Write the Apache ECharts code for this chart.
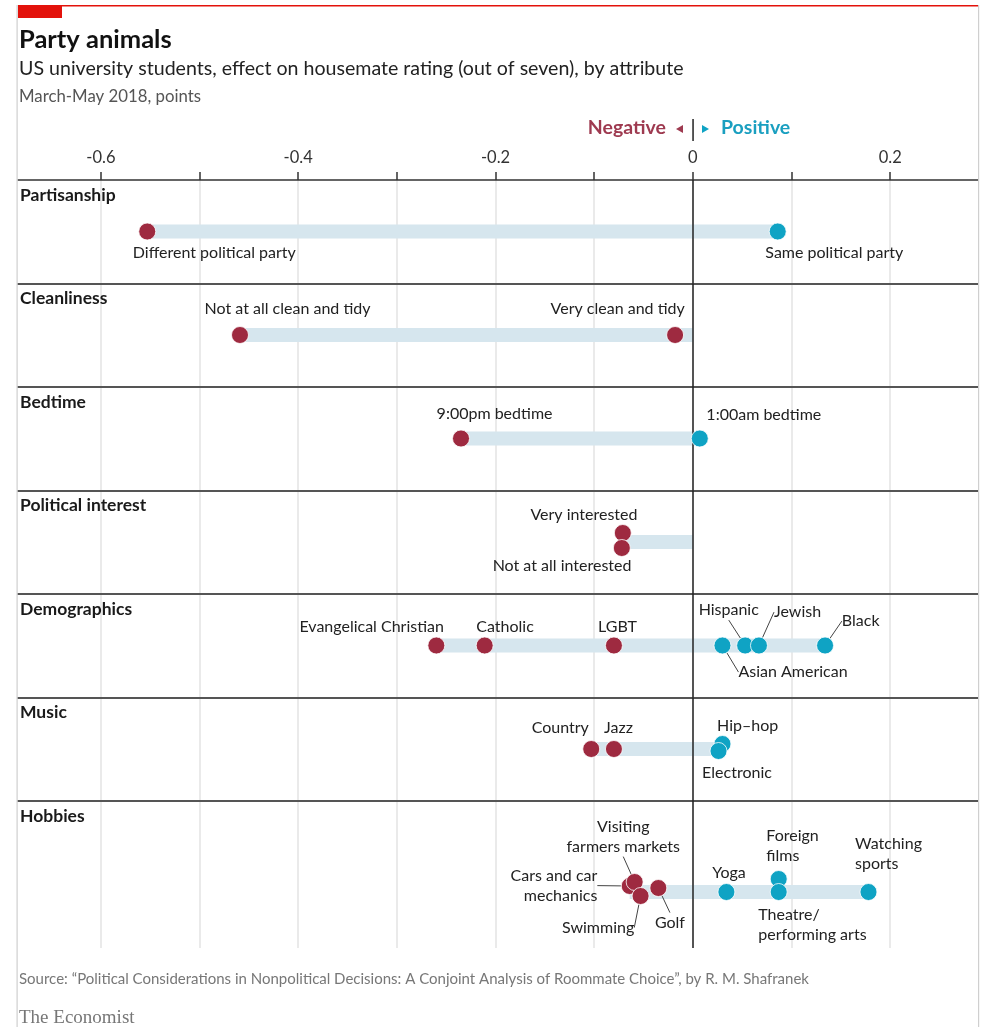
<!DOCTYPE html>
<html><head><meta charset="utf-8">
<script src="https://cdn.jsdelivr.net/npm/echarts@6/dist/echarts.min.js"></script>
<style>html,body{margin:0;padding:0;background:#fff}#c{width:982px;height:1027px}</style>
</head><body><div id="c"></div>
<script>
// ---------- data ----------
const panels = ['Partisanship', 'Cleanliness', 'Bedtime', 'Political interest', 'Demographics', 'Music', 'Hobbies'];
const tickLabels = [-0.6, -0.4, -0.2, 0, 0.2];
const attributes = [
  'Different political party', 'Same political party',
  'Not at all clean and tidy', 'Very clean and tidy',
  '9:00pm bedtime', '1:00am bedtime',
  'Very interested', 'Not at all interested',
  'Evangelical Christian', 'Catholic', 'LGBT', 'Asian American', 'Hispanic', 'Jewish', 'Black',
  'Country', 'Jazz', 'Hip–hop', 'Electronic',
  'Cars and car mechanics', 'Visiting farmers markets', 'Swimming', 'Golf', 'Yoga', 'Foreign films', 'Theatre/performing arts', 'Watching sports'
];
const effects = [
  -0.553, 0.086,
  -0.459, -0.018,
  -0.235, 0.007,
  -0.071, -0.072,
  -0.260, -0.211, -0.080, 0.030, 0.053, 0.067, 0.134,
  -0.103, -0.080, 0.030, 0.026,
  -0.064, -0.059, -0.053, -0.035, 0.034, 0.087, 0.087, 0.178
];
const attributePanel = [
  0, 0,
  1, 1,
  2, 2,
  3, 3,
  4, 4, 4, 4, 4, 4, 4,
  5, 5, 5, 5,
  6, 6, 6, 6, 6, 6, 6, 6
];

// ---------- layout / style ----------
const RED = '#9e2a40', TEAL = '#0fa3c4', BAR = '#d6e6ee';
const FONT = 'Lato';
const XMIN = -0.684, XMAX = 0.289;
const GRID_LEFT = 18, GRID_RIGHT = 4, FIRST_TOP = 180, ROW_H = 103.5, LAST_H = 147;
const panelBase = [51.5, 51.5, 51.5, 51.5, 51.5, 51.5, 91];
const nudge = {
  'Very interested': -9, 'Not at all interested': 6,
  'Hip–hop': -5, 'Electronic': 2,
  'Visiting farmers markets': -10, 'Cars and car mechanics': -6, 'Swimming': 4, 'Golf': -4,
  'Foreign films': -13
};
const labelSpec = {
  'Different political party': {dx: -14, dy: 22, align: 'left'},
  'Same political party': {dx: -12, dy: 22, align: 'left'},
  'Not at all clean and tidy': {dx: -35, dy: -26, align: 'left'},
  'Very clean and tidy': {dx: 10, dy: -26, align: 'right'},
  '9:00pm bedtime': {dx: -24, dy: -24, align: 'left'},
  '1:00am bedtime': {dx: 7, dy: -23, align: 'left'},
  'Very interested': {dx: 15, dy: -18, align: 'right'},
  'Not at all interested': {dx: 10, dy: 18, align: 'right'},
  'Evangelical Christian': {dx: 8, dy: -18, align: 'right'},
  'Catholic': {dx: -8, dy: -18, align: 'left'},
  'LGBT': {dx: 4, dy: -18, align: 'center'},
  'Hispanic': {dx: -16, dy: -35, align: 'center', line: true},
  'Jewish': {dx: 39, dy: -33, align: 'center', line: true},
  'Black': {dx: 36, dy: -24, align: 'center', line: true},
  'Asian American': {dx: 71, dy: 27, align: 'center', line: true},
  'Country': {dx: -2, dy: -21, align: 'right'},
  'Jazz': {dx: 5, dy: -21, align: 'center'},
  'Hip–hop': {dx: -5, dy: -18, align: 'left'},
  'Electronic': {dx: -16, dy: 22, align: 'left'},
  'Visiting farmers markets': {dx: -11, dy: -45, align: 'center', line: true, text: 'Visiting\nfarmers markets'},
  'Cars and car mechanics': {dx: -32, dy: 0, align: 'right', line: true, text: 'Cars and car\nmechanics'},
  'Swimming': {dx: -42, dy: 32, align: 'center', line: true},
  'Golf': {dx: 12, dy: 35, align: 'center', line: true},
  'Yoga': {dx: 3, dy: -19, align: 'center'},
  'Foreign films': {dx: -12, dy: -33, align: 'left', text: 'Foreign\nfilms'},
  'Theatre/performing arts': {dx: -20, dy: 33, align: 'left', text: 'Theatre/\nperforming arts'},
  'Watching sports': {dx: -13, dy: -38, align: 'left', text: 'Watching\nsports'}
};
const SYM = 17;

// ---------- build ----------
const grids = [], xAxes = [], yAxes = [], series = [], graphics = [];
const fmtTick = v => {
  const hit = tickLabels.find(t => Math.abs(t - v) < 1e-6);
  return hit === undefined ? '' : (hit === 0 ? '0' : String(hit));
};
panels.forEach((name, p) => {
  const top = FIRST_TOP + ROW_H * p;
  const h = p === panels.length - 1 ? LAST_H : ROW_H;
  grids.push({left: GRID_LEFT, right: GRID_RIGHT, top: top, height: h, containLabel: false});
  xAxes.push({
    type: 'value', gridIndex: p, min: XMIN, max: XMAX, position: 'top', splitNumber: 10,
    axisLine: {show: true, onZero: false, lineStyle: {color: p === 0 ? '#333' : '#555', width: p === 0 ? 1.5 : 2}},
    axisTick: {show: p === 0, length: 8, lineStyle: {color: '#333', width: 1.5}},
    axisLabel: {show: p === 0, margin: 14, fontSize: 16.5, color: '#333', fontFamily: FONT, formatter: fmtTick, showMinLabel: false, showMaxLabel: false},
    splitLine: {show: true, showMinLine: false, showMaxLine: false, lineStyle: {color: '#e3e3e3', width: 1.5}}
  });
  yAxes.push({type: 'value', gridIndex: p, min: 0, max: h, inverse: true, show: false});

  const idx = attributes.map((a, i) => i).filter(i => attributePanel[i] === p);
  const vals = idx.map(i => effects[i]);
  const lo = Math.min(0, ...vals), hi = Math.max(0, ...vals);
  const base = panelBase[p];
  series.push({
    type: 'line', xAxisIndex: p, yAxisIndex: p, silent: true, symbol: 'none', z: 1,
    data: [[lo, base], [hi, base]],
    lineStyle: {color: BAR, width: 14, cap: 'butt'},
    markLine: {
      silent: true, symbol: 'none', z: 3, animation: false,
      label: {show: false},
      lineStyle: {color: '#222', width: 1.5, type: 'solid'},
      data: [{xAxis: 0}]
    }
  });
  series.push({
    type: 'scatter', xAxisIndex: p, yAxisIndex: p, z: 10, symbolSize: SYM,
    itemStyle: {borderColor: '#fff', borderWidth: 0.8, opacity: 1},
    label: {show: true, fontFamily: FONT, fontSize: 16, color: '#222', lineHeight: 20},
    labelLine: {show: false, lineStyle: {color: '#444', width: 1}},
    data: idx.map(i => {
      const nm = attributes[i];
      const s = labelSpec[nm] || {dx: 0, dy: -20, align: 'center'};
      return {
        name: nm,
        value: [effects[i], base + (nudge[nm] || 0)],
        itemStyle: {color: effects[i] < 0 ? RED : TEAL},
        label: {
          formatter: s.text || nm,
          position: [SYM / 2 + s.dx, SYM / 2 + s.dy],
          align: s.align, verticalAlign: 'middle'
        },
        labelLine: {show: !!s.line, lineStyle: {color: '#444', width: 1}}
      };
    })
  });
  graphics.push({
    type: 'text', left: 20, top: top + 6, z: 20,
    style: {text: name, font: 'bold 17.5px ' + FONT, fill: '#1a1a1a'}
  });
});

// frame & header graphics
graphics.push(
  {type: 'rect', shape: {x: 18, y: 5, width: 960, height: 1.5}, style: {fill: '#e3120b'}, z: 20},
  {type: 'rect', shape: {x: 18, y: 5, width: 44, height: 13}, style: {fill: '#e3120b'}, z: 20},
  {type: 'rect', shape: {x: 16.5, y: 5, width: 1.2, height: 1022}, style: {fill: '#cfcfcf'}, z: 20},
  {type: 'rect', shape: {x: 978, y: 5, width: 1.2, height: 1022}, style: {fill: '#cfcfcf'}, z: 20},
  {type: 'text', x: 666, y: 128, z: 20, style: {text: 'Negative', font: 'bold 19.5px ' + FONT, fill: '#9e3a50', align: 'right', verticalAlign: 'middle'}},
  {type: 'polygon', shape: {points: [[676, 129], [683, 125], [683, 133]]}, style: {fill: '#9e3a50'}, z: 20},
  {type: 'rect', shape: {x: 692.3, y: 119, width: 1.5, height: 22}, style: {fill: '#222'}, z: 20},
  {type: 'polygon', shape: {points: [[709, 129], [702, 125], [702, 133]]}, style: {fill: TEAL}, z: 20},
  {type: 'text', x: 721, y: 128, z: 20, style: {text: 'Positive', font: 'bold 19.5px ' + FONT, fill: '#1a9fc0', align: 'left', verticalAlign: 'middle'}}
);

const chart = echarts.init(document.getElementById('c'), null, {renderer: 'canvas'});
chart.setOption({
  animation: false,
  backgroundColor: '#fff',
  title: [
    {text: 'Party animals', left: 19, top: 27, padding: 0, textStyle: {fontFamily: FONT, fontSize: 25.5, fontWeight: 'bold', color: '#111'}},
    {text: 'US university students, effect on housemate rating (out of seven), by attribute', left: 19, top: 59, padding: 0, textStyle: {fontFamily: FONT, fontSize: 19.6, fontWeight: 'normal', color: '#222'}},
    {text: 'March-May 2018, points', left: 19, top: 88, padding: 0, textStyle: {fontFamily: FONT, fontSize: 16.8, fontWeight: 'normal', color: '#555'}},
    {text: 'Source: “Political Considerations in Nonpolitical Decisions: A Conjoint Analysis of Roommate Choice”, by R. M. Shafranek', left: 19, top: 972, padding: 0, textStyle: {fontFamily: FONT, fontSize: 15, fontWeight: 'normal', color: '#777'}},
    {text: 'The Economist', left: 19, top: 1009, padding: 0, textStyle: {fontFamily: 'Liberation Serif', fontSize: 19, fontWeight: 'normal', color: '#777'}}
  ],
  grid: grids,
  xAxis: xAxes,
  yAxis: yAxes,
  series: series,
  graphic: graphics
});
</script></body></html>
